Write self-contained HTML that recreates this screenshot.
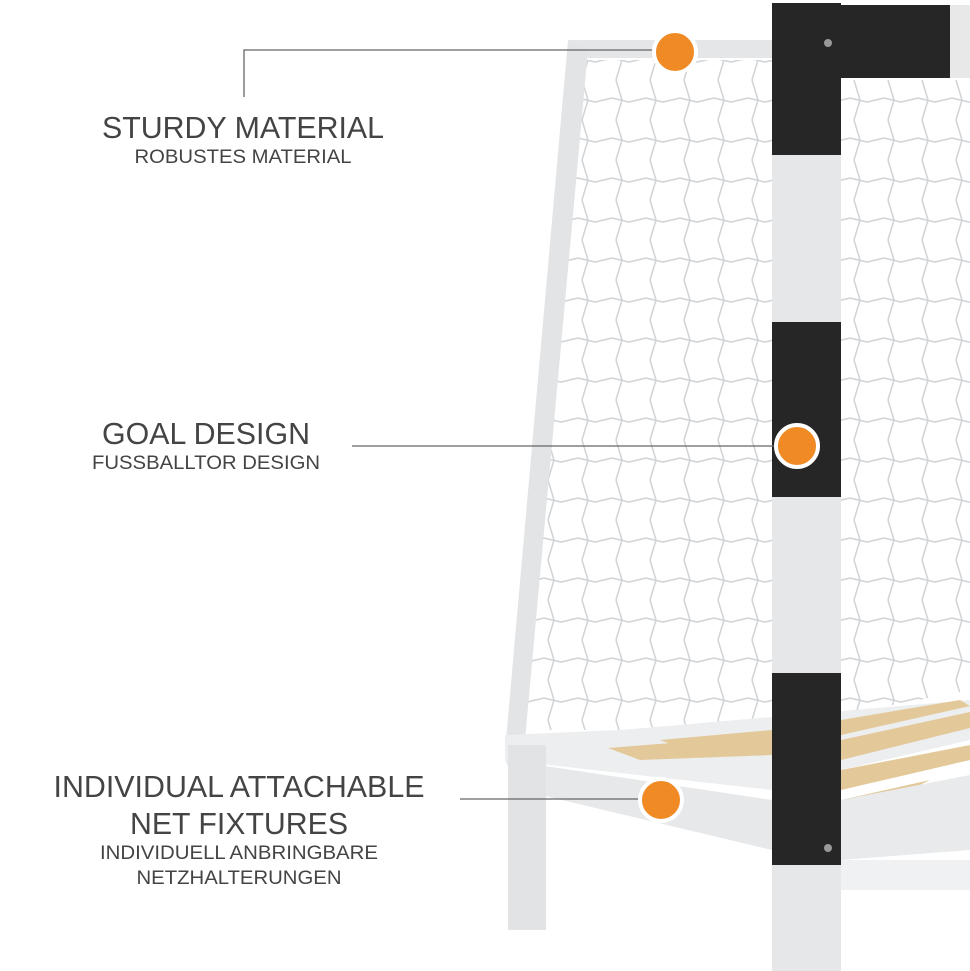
<!DOCTYPE html>
<html><head><style>
body{margin:0;background:#fff;width:970px;height:971px;overflow:hidden}
svg{display:block}
</style></head><body>
<svg width="970" height="971" viewBox="0 0 970 971" xmlns="http://www.w3.org/2000/svg">
<defs>
<pattern id="net" width="34" height="40" patternUnits="userSpaceOnUse">
<path d="M4 0 L10 20 L4 40 M0 18 L17 22 L34 18" stroke="#d2d5d8" stroke-width="1.6" fill="none"/>
</pattern>
<clipPath id="cl"><polygon points="582,60 772,60 772,730 515,730"/></clipPath>
<clipPath id="cr"><polygon points="841,80 970,80 970,690 841,715"/></clipPath>
</defs>
<rect width="970" height="971" fill="#fff"/>
<rect x="500" y="50" width="272" height="690" fill="url(#net)" clip-path="url(#cl)"/>
<rect x="841" y="70" width="130" height="660" fill="url(#net)" clip-path="url(#cr)"/>
<polygon points="568,40 772,40 772,58 588,58" fill="#e4e6e8"/>
<polygon points="568,40 588,50 525,740 506,740" fill="#e2e4e6"/>
<polygon points="505,735 620,730 970,700 970,740 841,770 772,790 505,760" fill="#eceeef"/>
<g fill="#e3c99a">
<polygon points="608,748 772,735 772,755 640,760"/>
<polygon points="660,740 772,730 772,745 690,752"/>
<polygon points="841,740 970,712 970,728 841,760"/>
<polygon points="841,770 970,745 970,760 841,790"/>
<polygon points="841,720 960,700 970,706 841,735"/>
<polygon points="841,800 930,780 900,795 841,808"/>
</g>
<polygon points="505,760 772,800 772,850 520,790" fill="#e6e8ea"/>
<polygon points="841,800 970,775 970,850 841,860" fill="#e8eaeb"/>
<rect x="508" y="745" width="38" height="185" fill="#e1e3e5"/>
<rect x="841" y="860" width="130" height="30" fill="#f0f1f2"/>
<rect x="772" y="5" width="178" height="73" fill="#262626"/>
<rect x="950" y="5" width="20" height="73" fill="#e8e8e8"/>
<rect x="772" y="3" width="69" height="968" fill="#e6e7e8"/>
<rect x="772" y="3" width="69" height="152" fill="#262626"/>
<rect x="772" y="322" width="69" height="175" fill="#262626"/>
<rect x="772" y="673" width="69" height="192" fill="#262626"/>
<circle cx="828" cy="43" r="4" fill="#999"/>
<circle cx="828" cy="848" r="4" fill="#999"/>
<g stroke="#666" stroke-width="1.3" fill="none">
<polyline points="244,97 244,50 655,50"/>
<line x1="352" y1="446" x2="777" y2="446"/>
<line x1="460" y1="799" x2="640" y2="799"/>
</g>
<g fill="#f08a24" stroke="#fff" stroke-width="4">
<circle cx="675" cy="52" r="21"/>
<circle cx="797" cy="446" r="21"/>
<circle cx="661" cy="800" r="21"/>
</g>
<g font-family="Liberation Sans, sans-serif" fill="#444" text-anchor="middle">
<text x="243" y="138" font-size="31" textLength="282" lengthAdjust="spacingAndGlyphs">STURDY MATERIAL</text>
<text x="243" y="163" font-size="19" textLength="217" lengthAdjust="spacingAndGlyphs">ROBUSTES MATERIAL</text>
<text x="206" y="444" font-size="31" textLength="208" lengthAdjust="spacingAndGlyphs">GOAL DESIGN</text>
<text x="206" y="469" font-size="19" textLength="228" lengthAdjust="spacingAndGlyphs">FUSSBALLTOR DESIGN</text>
<text x="239" y="797" font-size="31" textLength="371" lengthAdjust="spacingAndGlyphs">INDIVIDUAL ATTACHABLE</text>
<text x="239" y="834" font-size="31" textLength="218" lengthAdjust="spacingAndGlyphs">NET FIXTURES</text>
<text x="239" y="859" font-size="19" textLength="278" lengthAdjust="spacingAndGlyphs">INDIVIDUELL ANBRINGBARE</text>
<text x="239" y="884" font-size="19" textLength="205" lengthAdjust="spacingAndGlyphs">NETZHALTERUNGEN</text>
</g>
</svg>
</body></html>
